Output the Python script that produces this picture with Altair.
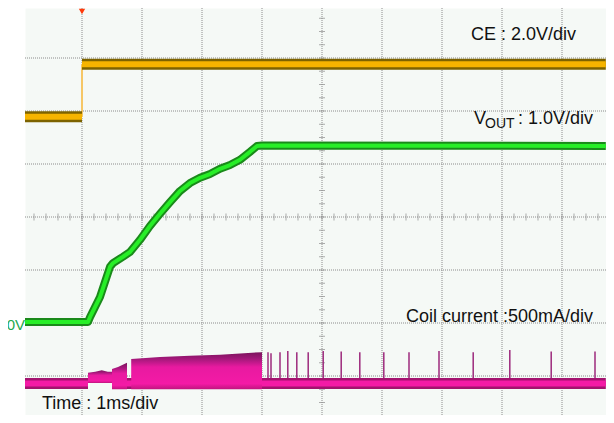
import altair as alt
import pandas as pd

# Oscilloscope capture: time in ms (1 ms/div), vertical position in screen divisions
# (0 = bottom graticule line of the 8-division screen).

# CE trace (2.0 V/div)
ce_low_t = [0.05, 1.0]
ce_low_level = 5.89
ce_high_t = [1.0, 9.73]
ce_high_level = 6.88

# VOUT trace (1.0 V/div)
vout_t = [0.05, 1.10, 1.133, 1.30, 1.467, 1.517, 1.683, 1.80, 1.967, 2.133, 2.30,
          2.467, 2.633, 2.80, 2.967, 3.133, 3.30, 3.467, 3.633, 3.80, 3.917, 4.0, 9.73]
vout_div = [2.02, 2.02, 2.11, 2.49, 3.06, 3.13, 3.25, 3.34, 3.57, 3.83, 4.06,
            4.28, 4.49, 4.64, 4.74, 4.81, 4.91, 4.98, 5.08, 5.23, 5.34, 5.35, 5.34]

# Coil current (500 mA/div): idle baseline pieces
coil_base_from = [0.05, 1.50]
coil_base_to = [1.10, 9.73]
coil_base_level = 0.86

# Coil current switching burst envelope
burst_seg = ["a"] * 5 + ["b"] * 3 + ["c"] * 6
burst_t = [1.10, 1.22, 1.33, 1.43, 1.50, 1.50, 1.60, 1.75, 1.82, 2.30, 2.80, 3.30, 3.70, 4.00]
burst_top = [1.06, 1.08, 1.11, 1.08, 1.08, 1.13, 1.17, 1.25, 1.32, 1.36, 1.38, 1.40, 1.43, 1.45]
burst_bot = [0.87, 0.87, 0.87, 0.87, 0.87, 0.75, 0.75, 0.75, 0.75, 0.75, 0.75, 0.75, 0.75, 0.75]

# Isolated pulses after regulation
spike_t = [4.10, 4.15, 4.30, 4.43, 4.58, 4.77, 5.02, 5.32, 5.63, 6.03, 6.45, 6.95, 7.52, 8.13, 8.82, 9.55]
spike_top = [1.45, 1.43, 1.45, 1.47, 1.45, 1.45, 1.47, 1.46, 1.45, 1.45, 1.45, 1.47, 1.45, 1.49, 1.46, 1.46]
spike_base = 0.96

# Graticule
grid_t = [1, 2, 3, 4, 5, 6, 7, 8, 9]
grid_div = [1, 2, 3, 4, 5, 6, 7]
minor_t = [round(i * 0.2, 2) for i in range(1, 49)]
minor_div = [round(i * 0.25, 2) for i in range(2, 32)]
trigger_t = [1.0]

xs = alt.Scale(domain=[0.05, 9.7333], nice=False, zero=False)
ys = alt.Scale(domain=[0.2642, 7.9434], nice=False, zero=False)
X = lambda f: alt.X(f, type="quantitative", scale=xs, axis=None)
Y = lambda f: alt.Y(f, type="quantitative", scale=ys, axis=None)

FONT = "Liberation Sans"

grid_v = alt.Chart(pd.DataFrame({"t": grid_t})).mark_rule(
    color="#8c8c8c", strokeWidth=1, strokeDash=[1, 1]).encode(x=X("t"))
grid_h = alt.Chart(pd.DataFrame({"d": grid_div})).mark_rule(
    color="#8c8c8c", strokeWidth=1, strokeDash=[1, 1]).encode(y=Y("d"))
minor_x = alt.Chart(pd.DataFrame({"t": minor_t, "d": [4] * len(minor_t)})).mark_tick(
    orient="vertical", size=7, thickness=1, color="#8c8c8c").encode(x=X("t"), y=Y("d"))
minor_y = alt.Chart(pd.DataFrame({"d": minor_div, "t": [5] * len(minor_div)})).mark_tick(
    orient="horizontal", size=6, thickness=1, color="#8c8c8c").encode(x=X("t"), y=Y("d"))

# CE
ce_df = pd.DataFrame({"t0": [ce_low_t[0], ce_high_t[0]], "t1": [ce_low_t[1], ce_high_t[1]],
                      "d": [ce_low_level, ce_high_level]})
ce_edge = alt.Chart(pd.DataFrame({"t": [1.0], "d0": [ce_low_level], "d1": [ce_high_level]})).mark_rule(
    color="#f6c766", strokeWidth=2).encode(x=X("t"), y=Y("d0"), y2="d1")
ce_out = alt.Chart(ce_df).mark_rule(color="#7d6300", strokeWidth=11).encode(x=X("t0"), x2="t1", y=Y("d"))
ce_in = alt.Chart(ce_df).mark_rule(color="#f6b400", strokeWidth=6).encode(x=X("t0"), x2="t1", y=Y("d"))

# VOUT
vout_df = pd.DataFrame({"t": vout_t, "d": vout_div})
vout_out = alt.Chart(vout_df).mark_line(color="#1a8a1a", strokeWidth=8, strokeJoin="round").encode(
    x=X("t"), y=Y("d"))
vout_in = alt.Chart(vout_df).mark_line(color="#27ee27", strokeWidth=4, strokeJoin="round").encode(
    x=X("t"), y=Y("d"))

# Coil current
base_df = pd.DataFrame({"t0": coil_base_from, "t1": coil_base_to, "d": [coil_base_level] * 2})
base_out = alt.Chart(base_df).mark_rule(color="#a3136f", strokeWidth=11).encode(x=X("t0"), x2="t1", y=Y("d"))
base_in = alt.Chart(base_df).mark_rule(color="#f41aa6", strokeWidth=6).encode(x=X("t0"), x2="t1", y=Y("d"))

burst_df = pd.DataFrame({"seg": burst_seg, "t": burst_t, "top": burst_top, "bot": burst_bot})
grad = alt.Gradient(
    gradient="linear", x1=0, x2=0, y1=0, y2=1,
    stops=[alt.GradientStop(color="#7a145c", offset=0),
           alt.GradientStop(color="#a3187a", offset=0.18),
           alt.GradientStop(color="#e81aa0", offset=0.4),
           alt.GradientStop(color="#f41aa6", offset=0.85),
           alt.GradientStop(color="#c0157e", offset=1)])
burst = alt.Chart(burst_df).mark_area(color=grad, opacity=1).encode(
    x=X("t"), y=Y("top"), y2="bot", detail="seg:N")

spike_df = pd.DataFrame({"t": spike_t, "top": spike_top, "base": [spike_base] * len(spike_t)})
spikes = alt.Chart(spike_df).mark_rule(color="#9c2a7c", strokeWidth=1.5).encode(
    x=X("t"), y=Y("base"), y2="top")

trigger = alt.Chart(pd.DataFrame({"t": trigger_t})).mark_point(
    shape="triangle-down", filled=True, size=40, color="#ff3a0a", opacity=1).encode(
    x=X("t"), y=alt.value(3.5))

def label(text, x, y, size=18, color="#111111", align="left"):
    return alt.Chart(pd.DataFrame({"s": [text]})).mark_text(
        font=FONT, fontSize=size, color=color, align=align, baseline="alphabetic").encode(
        text="s:N", x=alt.value(x), y=alt.value(y))

texts = [
    label("CE : 2.0V/div", 446, 32),
    label("V", 449, 116),
    label("OUT", 460, 120, size=14),
    label(": 1.0V/div", 493, 116),
    label("Coil current :500mA/div", 381, 314),
    label("Time : 1ms/div", 17, 401),
    label("0V", 0, 322, size=15, color="#22a84f", align="right"),
]

chart = alt.layer(
    grid_v, grid_h, minor_x, minor_y,
    ce_edge, ce_out, ce_in,
    vout_out, vout_in,
    base_out, base_in, burst, spikes,
    trigger, *texts,
).properties(
    width=581, height=407,
    autosize=alt.AutoSizeParams(type="none"),
    padding={"left": 17, "top": 0, "right": 0, "bottom": 0},
    background="#ffffff",
).configure_view(fill="#f5f9f6", stroke="transparent")

chart.save("out.html", embed_options={"renderer": "svg", "actions": False})
